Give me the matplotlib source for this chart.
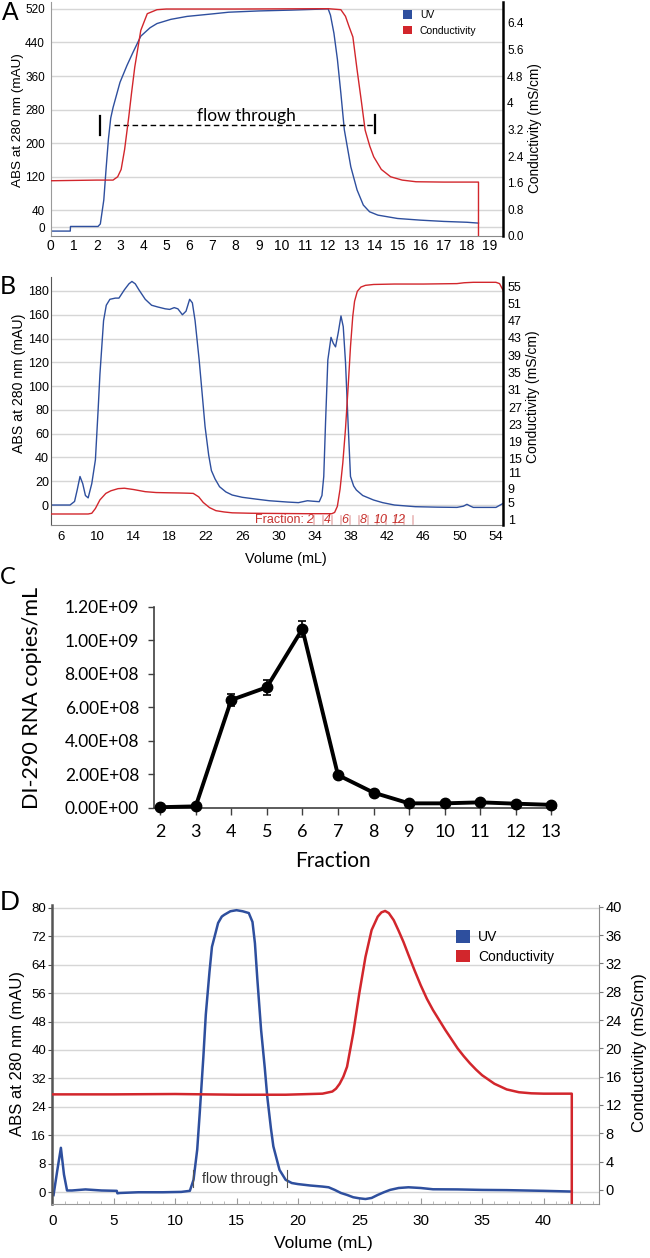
import matplotlib as mpl
mpl.use('Agg')
import matplotlib.pyplot as plt
import matplotlib.transforms as mtransforms
from matplotlib.patches import Patch

plt.rcParams['font.family'] = ['Liberation Sans', 'DejaVu Sans']

# ---- panel A: flow-through run ----
uv_a_x = [0, 0.85, 0.86, 2.05, 2.15, 2.3, 2.4, 2.5, 2.6, 2.7, 2.85, 3.0, 3.3, 3.55, 3.9, 4.3, 4.6, 5.2,
          5.9, 7.0, 7.7, 9.0, 10.4, 11.5, 12.0, 12.1, 12.25, 12.4, 12.55, 12.7, 12.98, 13.25, 13.52,
          13.79, 14.15, 15.0, 16.0, 17.0, 18.0, 18.5]
uv_a = [-9, -9, 2, 2, 8, 65, 140, 210, 260, 285, 315, 345, 385, 415, 455, 475, 485, 495,
        502, 508, 512, 515, 517, 519, 520, 505, 462, 400, 319, 232, 144, 89, 53,
        37, 29, 21, 17, 14, 12, 10]
cond_a_x = [0, 2.0, 2.7, 2.9, 3.05, 3.2, 3.38, 3.5, 3.64, 3.9, 4.18, 4.6, 5.0, 8.0, 12.0, 12.55, 12.75,
            12.9, 13.07, 13.25, 13.43, 13.6, 13.8, 13.97, 14.3, 14.7, 15.2, 15.8, 17.0, 18.5, 18.5]
cond_a = [1.66, 1.68, 1.68, 1.78, 2.0, 2.6, 3.58, 4.3, 5.08, 6.18, 6.68, 6.8, 6.82, 6.82, 6.83, 6.8, 6.6,
          6.3, 5.98, 5.0, 4.08, 3.18, 2.7, 2.38, 2.0, 1.78, 1.68, 1.63, 1.62, 1.62, 0]
a_left_ticks = [0, 40, 120, 200, 280, 360, 440, 520]
a_right_ticks = [0, 0.8, 1.6, 2.4, 3.2, 4.0, 4.8, 5.6, 6.4]
a_right_labels = ['0.0', '0.8', '1.6', '2.4', '3.2', '4', '4.8', '5.6', '6.4']
a_flow = (2.12, 14.03)

# ---- panel B: elution run ----
uv_b_x = [4.9, 7.0, 7.5, 7.8, 8.1, 8.4, 8.7, 9.0, 9.4, 9.8, 10.1, 10.3, 10.7, 11.0, 11.4, 12.0, 12.4,
          13.0, 13.5, 13.83, 14.2, 14.6, 15.3, 16.0, 16.7, 17.5, 18.0, 18.5, 18.9, 19.4, 19.8, 20.2,
          20.5, 20.8, 21.25, 21.6, 21.9, 22.3, 22.6, 23.0, 23.5, 24.2, 24.9, 26.0, 27.5, 29.0, 31.0,
          32.2, 32.7, 33.2, 33.8, 34.5, 34.8, 35.0, 35.2, 35.45, 35.8, 36.05, 36.3, 36.6, 36.9, 37.15,
          37.4, 37.7, 37.95, 38.3, 38.6, 39.3, 40.5, 41.5, 42.8, 45.1, 47.5, 49.7, 50.4, 50.8, 51.2,
          51.5, 53.0, 54.0, 54.8]
uv_b = [0, 0, 3, 13, 24, 18, 8, 6, 18, 38, 80, 110, 155, 168, 173, 174, 174,
        181, 186, 188, 186, 181, 173, 168, 166.5, 165, 164.5, 166, 165, 160, 163, 173,
        170, 155, 122, 92, 66, 42, 29, 22, 15.4, 11, 8.4, 6.5, 5, 3.6, 2.5,
        2, 2.8, 3.6, 3.2, 2.8, 8, 24, 70, 122, 141, 136, 133, 145, 159, 150,
        120, 66, 24, 16, 12.6, 8, 4.2, 2, 0, -1.4, -1.8, -2, -1, 0.6, -1,
        -2, -2, -2, 1.4]
cond_b_x = [4.9, 9.0, 9.4, 9.8, 10.3, 10.95, 11.5, 12.3, 13.0, 14.0, 15.3, 16.5, 17.6, 19.0, 20.0, 20.6,
            21.2, 21.7, 22.4, 23.1, 24.0, 24.9, 27.0, 30.0, 33.0, 35.9, 36.2, 36.5, 36.8, 37.1, 37.4,
            37.7, 37.95, 38.2, 38.4, 38.7, 39.1, 39.6, 40.5, 42.8, 46.0, 49.7, 50.5, 51.5, 54.0, 54.4, 54.8]
cond_b = [2.23, 2.23, 2.4, 3.5, 5.5, 7.0, 7.6, 8.1, 8.2, 7.9, 7.4, 7.2, 7.15, 7.1, 7.05, 7.0,
          6.2, 4.9, 3.7, 3.0, 2.7, 2.5, 2.4, 2.35, 2.3, 2.3, 2.6, 4.0, 8.0, 14.0, 22.0,
          32.0, 41.0, 48.0, 51.5, 53.8, 54.8, 55.2, 55.4, 55.5, 55.5, 55.6, 55.8, 55.9, 55.9, 55.6, 54]
b_left_ticks = list(range(0, 181, 20))
b_right_ticks = [1, 5, 9, 11, 15, 19, 23, 27, 31, 35, 39, 43, 47, 51, 55]
b_x_ticks = list(range(6, 55, 4))
frac_numbers = [2, 4, 6, 8, 10, 12]
frac_volumes = [33.4, 35.4, 37.35, 39.3, 41.3, 43.3]
frac_marks = [33.9, 34.9, 35.9, 36.9, 37.9, 38.9, 39.9, 40.9, 41.9, 42.9, 43.9, 44.9]

# ---- panel C: DI-290 RNA per fraction ----
fractions = [2, 3, 4, 5, 6, 7, 8, 9, 10, 11, 12, 13]
copies = [0.003e9, 0.008e9, 0.643e9, 0.719e9, 1.067e9, 0.195e9, 0.090e9, 0.026e9, 0.026e9, 0.032e9,
          0.024e9, 0.017e9]
copies_err = [0.002e9, 0.003e9, 0.034e9, 0.044e9, 0.05e9, 0.01e9, 0.006e9, 0.003e9, 0.003e9, 0.004e9,
              0.003e9, 0.003e9]
c_y_ticks = [0, 2e8, 4e8, 6e8, 8e8, 1e9, 1.2e9]

# ---- panel D: second run ----
uv_d_x = [0.1, 0.4, 0.7, 0.95, 1.2, 1.6, 2.7, 4.0, 5.25, 5.3, 5.5, 7, 9, 10.5, 11.2, 11.5, 11.8, 12.0,
          12.3, 12.5, 12.8, 13.0, 13.3, 13.5, 13.8, 14.0, 14.5, 15.0, 15.5, 16.0, 16.3, 16.5, 16.7, 17.0,
          17.3, 17.5, 17.8, 18.0, 18.5, 19.0, 19.5, 20.0, 21.0, 22.0, 22.5, 23.0, 23.5, 24.0, 24.5, 25.0,
          25.5, 26.0, 26.5, 27.0, 27.5, 28.2, 29.0, 30.0, 31.0, 33.0, 35.0, 37.0, 40.0, 42.3]
uv_d = [-0.8, 6, 12.5, 5, 0.5, 0.5, 0.8, 0.5, 0.4, -0.3, -0.2, 0, 0, 0.1, 0.4, 3.5, 12, 22,
        38, 50, 62, 69, 73, 75.7, 77.5, 78, 79, 79.3, 79, 78.5, 76, 70, 59.7, 45.7,
        35, 27, 18, 12.9, 6.3, 3.5, 2.6, 2.3, 1.9, 1.6, 1.4, 0.66, -0.2, -0.75, -1.4, -1.7,
        -1.9, -1.6, -0.75, 0, 0.66, 1.2, 1.4, 1.2, 0.84, 0.8, 0.66, 0.6, 0.4, 0.2]
cond_d_x = [0, 5, 10, 15, 19, 22, 22.8, 23.1, 23.4, 23.7, 24.0, 24.5, 25.0, 25.5, 26.0, 26.5, 26.8,
            27.1, 27.4, 27.8, 28.2, 28.6, 29.0, 29.5, 30.0, 30.5, 31.0, 31.5, 32.0, 32.5, 33.0, 33.5,
            34.0, 34.5, 35.0, 35.5, 36.0, 36.5, 37.0, 38.0, 39.0, 40.0, 42.3, 42.3]
cond_d = [13.5, 13.5, 13.55, 13.45, 13.45, 13.6, 13.9, 14.3, 15.0, 16.0, 17.4, 22.1, 27.8, 32.9, 36.7,
          38.6, 39.2, 39.4, 39.1, 38.1, 36.6, 35.0, 33.2, 31.0, 28.9, 27.0, 25.4, 24.0, 22.6, 21.3,
          20.0, 18.9, 17.9, 17.0, 16.2, 15.6, 15.0, 14.6, 14.2, 13.8, 13.65, 13.6, 13.6, -3]
d_left_ticks = list(range(0, 81, 8))
d_right_ticks = list(range(0, 41, 4))
d_x_ticks = list(range(0, 41, 5))
d_flow = (11.49, 19.1)

UV_BLUE = '#2e4f9e'
COND_RED = '#d2262c'
GRID = '#d6d6d6'
W, H = 650, 1258

fig = plt.figure(figsize=(W / 100, H / 100), dpi=100)


def box(l, t, r, b):
    return [l / W, 1 - b / H, (r - l) / W, (b - t) / H]


def put_label(axis, text, x, y, size, **kw):
    # axis label centred on a pixel position of the figure
    axis.set_label_text(text, fontsize=size, **kw)
    axis.set_label_coords(x / W, 1 - y / H, transform=fig.transFigure)
    axis.label.set_va('center')
    axis.label.set_ha('center')


def flow_legend(ax, anchor, size, hl, spacing, pad):
    ax.legend(handles=[Patch(facecolor=UV_BLUE, edgecolor='none', label='UV'),
                       Patch(facecolor=COND_RED, edgecolor='none', label='Conductivity')],
              loc='upper left', bbox_to_anchor=anchor, frameon=False, fontsize=size,
              handlelength=hl, handleheight=hl, handletextpad=pad, labelspacing=spacing,
              borderpad=0, borderaxespad=0)


# ================= A =================
ax_a = fig.add_axes(box(50.6, 1.7, 503, 236))
ax_a2 = ax_a.twinx()
ax_a.plot(uv_a_x, uv_a, color=UV_BLUE, lw=1.0)
ax_a2.plot(cond_a_x, cond_a, color=COND_RED, lw=1.0)
ax_a.set_xlim(0, 19.56)
ax_a.set_ylim(-20.7, 537)
ax_a2.set_ylim(0, 7.04)
ax_a.set_xticks(range(20))
ax_a.set_yticks(a_left_ticks)
ax_a2.set_yticks(a_right_ticks, a_right_labels)
ax_a.grid(axis='y', color=GRID, lw=1)
ax_a.set_axisbelow(True)
ax_a.tick_params(axis='y', length=0, labelsize=8.5, pad=4)
ax_a.tick_params(axis='x', length=0, labelsize=10, pad=2)
ax_a2.tick_params(axis='y', length=0, labelsize=8.5, pad=3)
for s in ['top', 'right']:
    ax_a.spines[s].set_visible(False)
for s in ['top', 'left', 'bottom']:
    ax_a2.spines[s].set_visible(False)
ax_a.spines['left'].set_color('#9a9a9a')
ax_a.spines['bottom'].set_color('#8a8a8a')
ax_a2.spines['right'].set_linewidth(1.8)
put_label(ax_a.yaxis, 'ABS at 280 nm (mAU)', 17.6, 120, 9.7)
put_label(ax_a2.yaxis, 'Conductivity (mS/cm)', 535, 128, 9.8)
ax_a.plot([a_flow[0]] * 2, [220, 265], color='black', lw=1.6)
ax_a.plot([a_flow[1]] * 2, [224, 267], color='black', lw=1.6)
ax_a.plot([2.74, a_flow[1]], [244, 244], color='black', lw=1.0, dashes=(4, 2.5))
ax_a.text(8.48, 253, 'flow through', fontsize=12.5, family=['Lato', 'DejaVu Sans'],
          ha='center', va='baseline')
flow_legend(ax_a2, (0.778, 0.963), 7.5, 0.9, 0.5, 0.75)
fig.text(2 / W, 1 - 12.5 / H, 'A', fontsize=18, va='center', ha='left')

# ================= B =================
ax_b = fig.add_axes(box(51, 276.7, 503, 525))
ax_b2 = ax_b.twinx()
ax_b.plot(uv_b_x, uv_b, color=UV_BLUE, lw=1.0)
ax_b2.plot(cond_b_x, cond_b, color=COND_RED, lw=1.0)
ax_b.set_xlim(4.9, 54.78)
ax_b.set_ylim(-16.8, 192)
ax_b2.set_ylim(-0.32, 57.2)
ax_b.set_xticks(b_x_ticks)
ax_b.set_yticks(b_left_ticks)
ax_b2.set_yticks(b_right_ticks)
ax_b.grid(axis='y', color=GRID, lw=1)
ax_b.set_axisbelow(True)
ax_b.tick_params(axis='y', length=0, labelsize=9, pad=1.5)
ax_b.tick_params(axis='x', length=0, labelsize=9.5, pad=4.5)
ax_b2.tick_params(axis='y', length=0, labelsize=9, pad=3.5)
# the instrument spreads the crowded "11" and "9" labels apart
label_shift = {11: 3.5, 9: -4.0}
for val, tick in zip(b_right_ticks, ax_b2.yaxis.get_major_ticks(len(b_right_ticks))):
    if val in label_shift:
        off = mtransforms.ScaledTranslation(0, label_shift[val] / 100, fig.dpi_scale_trans)
        tick.label2.set_transform(tick.label2.get_transform() + off)
for s in ['top', 'right']:
    ax_b.spines[s].set_visible(False)
for s in ['top', 'left', 'bottom']:
    ax_b2.spines[s].set_visible(False)
ax_b.spines['left'].set_color('#555555')
ax_b.spines['bottom'].set_color('#8a8a8a')
ax_b2.spines['right'].set_linewidth(1.8)
put_label(ax_b.yaxis, 'ABS at 280 nm (mAU)', 19, 383.5, 10.2)
put_label(ax_b2.yaxis, 'Conductivity (mS/cm)', 533, 396.7, 10)
put_label(ax_b.xaxis, 'Volume (mL)', 286, 559, 10.4)
frac_tr = mtransforms.blended_transform_factory(ax_b.transData, ax_b.transAxes)
for v in frac_marks:
    ax_b.plot([v, v], [0.004, 0.036], color='#eab9b9', lw=1.2, transform=frac_tr)
ax_b.text(32.8, 0.022, 'Fraction:', color='#c8332f', fontsize=9, ha='right', va='center',
          transform=frac_tr)
for n, v in zip(frac_numbers, frac_volumes):
    ax_b.text(v, 0.022, str(n), color='#c8332f', fontsize=9, style='italic', ha='center',
              va='center', transform=frac_tr)
fig.text(0 / W, 1 - 286 / H, 'B', fontsize=18, va='center', ha='left',
         family=['Lato', 'DejaVu Sans'])

# ================= C =================
lato = ['Lato', 'DejaVu Sans']
ax_c = fig.add_axes(box(154.4, 606.7, 556, 807.7))
ax_c.errorbar(fractions, copies, yerr=copies_err, fmt='-o', color='black', lw=2.8, ms=7.5,
              elinewidth=1.2, capsize=3, capthick=1.2, clip_on=False, zorder=3)
ax_c.set_xlim(1.84, 13.13)
ax_c.set_ylim(0, 1.2e9)
ax_c.set_xticks(fractions)
ax_c.set_yticks(c_y_ticks, [f'{v:.2E}' for v in c_y_ticks])
for lab in ax_c.get_xticklabels() + ax_c.get_yticklabels():
    lab.set_family(lato)
ax_c.tick_params(axis='y', length=4, width=1, labelsize=12.5, pad=7, color='#404040')
ax_c.tick_params(axis='x', length=5, width=1, labelsize=13, pad=7, color='#404040')
for s in ['top', 'right']:
    ax_c.spines[s].set_visible(False)
for s in ['left', 'bottom']:
    ax_c.spines[s].set_color('#404040')
    ax_c.spines[s].set_linewidth(1.2)
put_label(ax_c.yaxis, 'DI-290 RNA copies/mL', 32, 697.5, 15.5, family=lato)
put_label(ax_c.xaxis, 'Fraction', 333, 861, 15, family=lato)
fig.text(0 / W, 1 - 578 / H, 'C', fontsize=17, va='center', ha='left', family=lato)

# ================= D =================
ax_d = fig.add_axes(box(52.3, 905, 598.8, 1204))
ax_d2 = ax_d.twinx()
ax_d.plot(uv_d_x, uv_d, color=UV_BLUE, lw=1.8)
ax_d2.plot(cond_d_x, cond_d, color=COND_RED, lw=1.8)
ax_d.set_xlim(0, 44.5)
ax_d.set_ylim(-3.3, 80.76)
ax_d2.set_ylim(-1.98, 40.24)
ax_d.set_xticks(d_x_ticks)
ax_d.set_xticks(range(0, 45), minor=True)
ax_d.set_yticks(d_left_ticks)
ax_d2.set_yticks(d_right_ticks)
ax_d.grid(axis='y', color=GRID, lw=1)
ax_d.set_axisbelow(True)
ax_d.tick_params(axis='y', length=3, labelsize=9.5, pad=1.5, color='#555555')
ax_d.tick_params(axis='x', which='major', direction='in', length=4, labelsize=11, pad=7,
                 color='#9a9a9a')
ax_d.tick_params(axis='x', which='minor', direction='in', length=2.5, color='#b0b0b0')
ax_d2.tick_params(axis='y', length=3, labelsize=10.5, pad=2, color='#777777')
for s in ['top', 'right']:
    ax_d.spines[s].set_visible(False)
for s in ['top', 'left', 'bottom']:
    ax_d2.spines[s].set_visible(False)
ax_d.spines['left'].set_color('#555555')
ax_d.spines['left'].set_linewidth(1.8)
ax_d.spines['bottom'].set_color('#9a9a9a')
ax_d2.spines['right'].set_color('#8a8a8a')
put_label(ax_d.yaxis, 'ABS at 280 nm (mAU)', 18, 1054, 12)
put_label(ax_d2.yaxis, 'Conductivity (mS/cm)', 639.4, 1053, 12)
put_label(ax_d.xaxis, 'Volume (mL)', 323.6, 1243.7, 12.5)
for v in d_flow:
    ax_d.plot([v, v], [1.6, 6.3], color='#555555', lw=0.8)
ax_d.text(sum(d_flow) / 2, 3.6, 'flow through', fontsize=10, color='#333333', ha='center',
          va='center')
flow_legend(ax_d2, (0.7387, 0.916), 10, 1.0, 0.4, 0.6)
fig.text(0 / W, 1 - 903 / H, 'D', fontsize=20, va='center', ha='left')

fig.savefig('out.png', dpi=100)
